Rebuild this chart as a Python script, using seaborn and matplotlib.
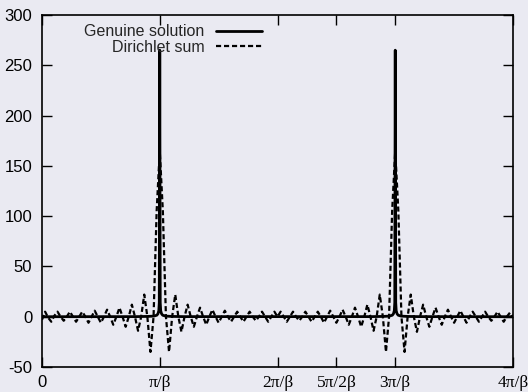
import numpy as np
import pandas as pd
import seaborn as sns
import matplotlib
matplotlib.use("Agg")
import matplotlib.pyplot as plt

# ---------------- data (x in units of pi/beta) ----------------
x_ticks = [0, 1, 2, 2.5, 3, 4]
x_tick_labels = ["0", "π/β", "2π/β", "5π/2β", "3π/β", "4π/β"]
y_ticks = [-50, 0, 50, 100, 150, 200, 250, 300]

genuine_x = [0, 0.8, 0.9, 0.95, 0.975, 0.985, 0.992, 0.996, 1.0, 1.004, 1.008,
             1.015, 1.025, 1.05, 1.1, 1.2,
             2.8, 2.9, 2.95, 2.975, 2.985, 2.992, 2.996, 3.0, 3.004, 3.008,
             3.015, 3.025, 3.05, 3.1, 3.2, 4.0]
genuine_y = [0, 0.1, 0.3, 0.6, 1.5, 3, 6, 14, 265, 14, 6,
             3, 1.5, 0.6, 0.3, 0.1,
             0.1, 0.3, 0.6, 1.5, 3, 6, 14, 265, 14, 6,
             3, 1.5, 0.6, 0.3, 0.1, 0]

# Dirichlet sum sampled every 1/38 of pi/beta from 0 to 4 pi/beta
dirichlet_x_start, dirichlet_x_end = 0.0, 4.0
dirichlet_y = [
    -3, 5, -1, -5, 1, 5, 0, -4, 0, 5, 0, -5, 0, 5, 0, -6, 0, 6, 0, -6,
    0, 7, 0, -8, 0, 9, 0, -10, 0, 12, 0, -14, 0, 22, 0, -35, 0, 105,
    165,
    105, 0, -35, 0, 22, 0, -15, 0, 12, 0, -10, 0, 9, 0, -8, 0, 7, 0, -6,
    0, 6, 0, -5, 0, 5, 0, -5, 0, 5, 0, -4, 0, 5, 0, -5, 0, 5,
    0,
    5, 0, -5, 0, 5, 0, -4, 0, 5, 0, -5, 0, 5, 0, -6, 0, 6, 0, -6, 0,
    7, 0, -8, 0, 9, 0, -10, 0, 12, 0, -14, 0, 22, 0, -35, 0, 105,
    165,
    105, 0, -35, 0, 22, 0, -15, 0, 12, 0, -10, 0, 9, 0, -8, 0, 7, 0, -6,
    0, 6, 0, -6, 0, 5, 0, -5, 0, 5, 0, -4, 0, 5, 0, -5, 0, 4, 0,
]

dirichlet_x = np.linspace(dirichlet_x_start, dirichlet_x_end, len(dirichlet_y))

df_gen = pd.DataFrame({"x": genuine_x, "y": genuine_y})
df_dir = pd.DataFrame({"x": dirichlet_x, "y": dirichlet_y})

# ---------------- style ----------------
sns.set_theme(style="dark")
bg = "#EAEAF2"
plt.rcParams["font.family"] = ["Liberation Sans", "DejaVu Sans"]
plt.rcParams["axes.grid"] = False

fig = plt.figure(figsize=(5.28, 3.92), dpi=100, facecolor=bg)
ax = fig.add_axes([42 / 528, 1 - 367 / 392, 471 / 528, 352 / 392])
ax.set_facecolor(bg)

sns.lineplot(data=df_dir, x="x", y="y", ax=ax, color="black", lw=1.6,
             estimator=None, sort=False, label="Dirichlet sum", zorder=2)
sns.lineplot(data=df_gen, x="x", y="y", ax=ax, color="black", lw=2.0,
             estimator=None, sort=False, label="Genuine solution", zorder=3)
ax.lines[0].set_dashes((2.3, 1.3))

ax.set_xlim(0, 4)
ax.set_ylim(-50, 300)
ax.set_xlabel("")
ax.set_ylabel("")

ax.set_xticks(x_ticks)
ax.set_xticklabels(x_tick_labels)
ax.set_yticks(y_ticks)
ax.set_yticklabels([str(v) for v in y_ticks])

ax.tick_params(axis="both", which="both", direction="in", length=7, width=1,
               color="black", labelcolor="black", labelsize=12,
               top=True, right=True, bottom=True, left=True)
ax.tick_params(axis="x", pad=5.5)
ax.tick_params(axis="y", pad=7)
for lbl in ax.get_xticklabels():
    if lbl.get_text() == "0":
        lbl.set_family(["Liberation Sans", "DejaVu Sans"])
    else:
        lbl.set_family(["Liberation Serif", "DejaVu Serif"])
        lbl.set_fontsize(12.5)
for s in ax.spines.values():
    s.set_visible(True)
    s.set_color("black")
    s.set_linewidth(1.2)

handles, labels = ax.get_legend_handles_labels()
order = [labels.index("Genuine solution"), labels.index("Dirichlet sum")]
leg = ax.legend([handles[i] for i in order], [labels[i] for i in order],
                loc="upper right", bbox_to_anchor=(0.467, 0.974),
                frameon=False, markerfirst=False, fontsize=11.5,
                handlelength=2.9, handletextpad=0.7, labelspacing=0.05,
                borderpad=0, borderaxespad=0)
for h in leg.get_lines():
    h.set_color("black")

fig.savefig("out.png", dpi=100, facecolor=bg)
